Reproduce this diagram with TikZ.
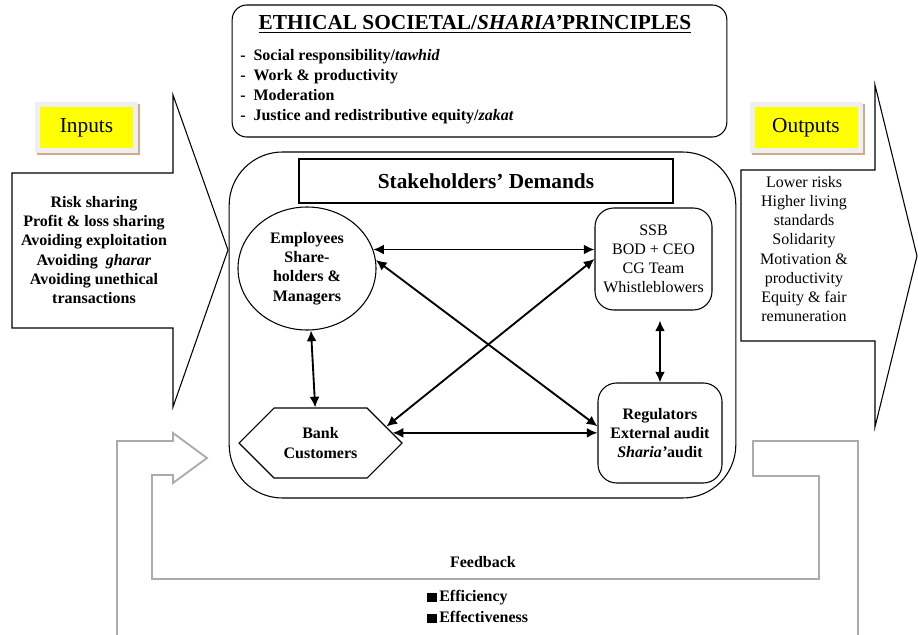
\documentclass[tikz,border=0pt]{standalone}
\usepackage{fontspec}
\setmainfont{Liberation Serif}
\usepackage{xcolor}
\usepackage{tikz}
\usetikzlibrary{arrows.meta,positioning,shapes.geometric,shapes.symbols}
\definecolor{tagyellow}{HTML}{FFFF00}
\definecolor{tagshadow}{HTML}{D2A98C}
\definecolor{tagframe}{HTML}{EFEFEF}
\definecolor{loopgray}{HTML}{ABABAB}
\tikzset{
    gov box/.style={
        draw=black,
        line width=0.8pt,
        align=center,
        inner sep=2pt,
        font=\fontsize{12}{14.4}\selectfont\bfseries
    },
    gov round/.style={gov box, rounded corners=14pt},
    gov circle/.style={gov box, ellipse, inner sep=0pt},
    gov hex/.style={gov box, signal, signal to=west and east, signal pointer angle=90},
    gov text/.style={font=\fontsize{12}{14.4}\selectfont\bfseries, align=center},
    gov plain/.style={font=\fontsize{12}{14.4}\selectfont, align=center},
    gov tag/.style={
        fill=tagyellow,
        draw=tagframe,
        line width=3.75pt,
        minimum height=34pt,
        font=\fontsize{16}{19}\selectfont,
        preaction={draw=tagshadow, line width=3.75pt,
            transform canvas={xshift=1.5pt, yshift=-1.5pt}}
    },
    gov shape/.style={draw=black, line width=0.8pt},
    gov link/.style={{Latex[length=8pt,width=7.5pt]}-{Latex[length=8pt,width=7.5pt]}, line width=1.4pt},
    gov loop/.style={draw=loopgray, line width=1.4pt}
}

\begin{document}
\begin{tikzpicture}[x=0.75pt, y=-0.75pt]
\useasboundingbox (0,0) rectangle (918,635);

% principles on top
\node[gov box, rounded corners=11pt, minimum width=371pt, minimum height=99pt] (ethbox) at (479.5,71) {};
\node[anchor=base, inner sep=0pt, font=\fontsize{16}{19}\selectfont\bfseries] (ethtitle) at (475,30)
    {\underline{ETHICAL SOCIETAL/\textit{SHARIA'}PRINCIPLES}};
\node[anchor=north west, inner sep=0pt, align=left, font=\fontsize{12}{15}\selectfont\bfseries] (ethlist) at (240,49)
    {-~~Social responsibility/\textit{tawhid}\\
     -~~Work \& productivity\\
     -~~Moderation\\
     -~~Justice and redistributive equity/\textit{zakat}};

% inputs side
\node[gov tag, minimum width=73.5pt] (intag) at (86.5,127.5) {Inputs};
\draw[gov shape] (12,173) -- (173,173) -- (173,95) -- (228,250) -- (173,407) -- (173,328) -- (12,328) -- cycle;
\node[gov text] (intext) at (94,250)
    {Risk sharing\\ Profit \& loss sharing\\ Avoiding exploitation\\ Avoiding~ \textit{gharar}\\ Avoiding unethical\\ transactions};

% outputs side
\node[gov tag, minimum width=81pt] (outtag) at (806,127.5) {Outputs};
\draw[gov shape] (741,170) -- (875,170) -- (875,85) -- (917,256) -- (875,427) -- (875,341) -- (741,341) -- cycle;
\node[gov plain] (outtext) at (804,249)
    {Lower risks\\ Higher living\\ standards\\ Solidarity\\ Motivation \&\\ productivity\\ Equity \& fair\\ remuneration};

% stakeholders
\node[gov box, rounded corners=40pt, minimum width=380pt, minimum height=259.5pt] (hub) at (482.5,325) {};
\node[gov box, sharp corners, line width=1.1pt, minimum width=280.5pt, minimum height=33pt,
      font=\fontsize{16}{19}\selectfont\bfseries] (stake) at (486,181) {Stakeholders' Demands};
\node[gov circle, minimum width=103.5pt, minimum height=92.25pt] (emp) at (307,268.5)
    {Employees\\ Share-\\ holders \&\\ Managers};
\node[gov round, font=\fontsize{12}{14.4}\selectfont, minimum width=87.75pt, minimum height=76.5pt] (ssb) at (653.5,259)
    {SSB\\ BOD + CEO\\ CG Team\\ Whistleblowers};
\node[gov round, minimum width=93pt, minimum height=75pt] (reg) at (660,433)
    {Regulators\\ External audit\\ \textit{Sharia'}audit};
\node[gov hex, minimum width=122.25pt, minimum height=52.5pt] (bank) at (320.5,443) {Bank\\ Customers};

\draw[gov link] (emp.16) -- (emp.16 -| ssb.west);
\draw[gov link] (emp.7) -- ([yshift=5pt]reg.west);
\draw[gov link] (bank.14) -- (ssb.west);
\draw[gov link] (bank.8) -- (bank.8 -| reg.west);
\draw[gov link] ([xshift=3pt]emp.south) -- ([xshift=-4pt]bank.north);
\draw[gov link, shorten <=7.5pt] (ssb.south -| reg.north) -- (reg.north);

% feedback loop
\draw[gov loop] (117,635) -- (117,441) -- (173,441) -- (173,433) -- (207,458) -- (173,483) -- (173,475)
    -- (152,475) -- (152,579) -- (819,579) -- (819,476) -- (753,476) -- (753,441) -- (858,441) -- (858,635);
\node[gov text] (fbtitle) at (483,562) {Feedback};
\node[anchor=west, inner sep=0pt, align=left, font=\fontsize{12}{15.75}\selectfont\bfseries] (fblist) at (427,606.5)
    {\rule{7pt}{6.5pt}\,Efficiency\\ \rule{7pt}{6.5pt}\,Effectiveness};
\end{tikzpicture}
\end{document}
